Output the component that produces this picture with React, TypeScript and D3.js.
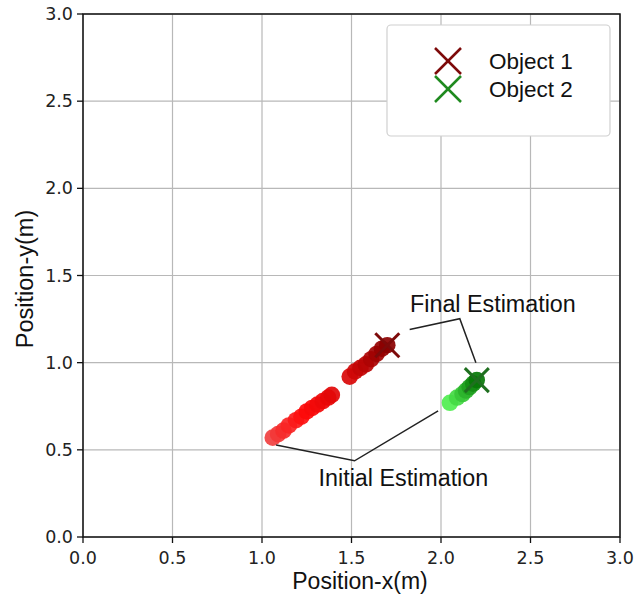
import React from "react";
import * as d3 from "d3";

const xTicks = [0, 0.5, 1.0, 1.5, 2.0, 2.5, 3.0];
const yTicks = [0, 0.5, 1.0, 1.5, 2.0, 2.5, 3.0];

// Object 1 estimates (initial -> final)
const obj1X = [1.06, 1.09, 1.12, 1.15, 1.19, 1.22, 1.25, 1.28, 1.31, 1.34, 1.37, 1.39, 1.49, 1.52, 1.55, 1.58, 1.61, 1.64, 1.67, 1.70];
const obj1Y = [0.57, 0.59, 0.61, 0.64, 0.67, 0.69, 0.72, 0.74, 0.76, 0.78, 0.80, 0.815, 0.92, 0.95, 0.97, 0.99, 1.02, 1.05, 1.08, 1.10];
// Object 2 estimates
const obj2X = [2.05, 2.09, 2.12, 2.14, 2.16, 2.18, 2.20];
const obj2Y = [0.77, 0.80, 0.82, 0.84, 0.86, 0.88, 0.90];

const legendLabels = ["Object 1", "Object 2"];
const legendColors = ["#7d0a0a", "#1f8a1f"];

const finalLine = [[1.825, 1.19], [2.105, 1.252], [2.195, 1.0]];
const initialLine = [[1.079, 0.528], [1.517, 0.437], [1.984, 0.723]];

export default function App() {
  const W = 635, H = 596;
  const left = 83, right = 620, top = 14, bottom = 537;
  const x = d3.scaleLinear().domain([0, 3]).range([left, right]);
  const y = d3.scaleLinear().domain([0, 3]).range([bottom, top]);

  const red1 = d3.scaleLinear<string>().domain([0, 0.3, 0.6, 1]).range(["#f04040", "#ff0a0a", "#e00808", "#8b0000"]);
  const green1 = d3.scaleLinear<string>().domain([0, 1]).range(["#50ee50", "#087808"]);

  const line = d3.line<number[]>().x(d => x(d[0])).y(d => y(d[1]));

  const tickFont = "DejaVu Sans";
  const r = 8.3;

  const xMark = (cx: number, cy: number, s: number, color: string, w: number) => (
    <g>
      <line x1={cx - s} y1={cy - s} x2={cx + s} y2={cy + s} stroke={color} strokeWidth={w} />
      <line x1={cx - s} y1={cy + s} x2={cx + s} y2={cy - s} stroke={color} strokeWidth={w} />
    </g>
  );

  return (
    <svg width={W} height={H} style={{ position: "absolute", left: 0, top: 0, background: "#fff" }}>
      <rect width={W} height={H} fill="#fff" />
      {/* grid */}
      {xTicks.map(t => (
        <line key={"gx" + t} x1={x(t)} x2={x(t)} y1={top} y2={bottom} stroke="#b8b8b8" strokeWidth={1.2} />
      ))}
      {yTicks.map(t => (
        <line key={"gy" + t} x1={left} x2={right} y1={y(t)} y2={y(t)} stroke="#b8b8b8" strokeWidth={1.2} />
      ))}
      {/* points object 1 */}
      {obj1X.map((v, i) => (
        <circle key={"a" + i} cx={x(v)} cy={y(obj1Y[i])} r={r} fill={red1(i / (obj1X.length - 1))} opacity={0.92} />
      ))}
      {obj2X.map((v, i) => (
        <circle key={"b" + i} cx={x(v)} cy={y(obj2Y[i])} r={r} fill={green1(i / (obj2X.length - 1))} opacity={0.92} />
      ))}
      {xMark(x(obj1X[obj1X.length - 1]), y(obj1Y[obj1Y.length - 1]), 12, "#7d0a0a", 3)}
      {xMark(x(obj2X[obj2X.length - 1]), y(obj2Y[obj2Y.length - 1]), 12, "#1f6f1f", 3)}
      {/* annotations */}
      <path d={line(finalLine) || ""} fill="none" stroke="#222" strokeWidth={1.5} />
      <path d={line(initialLine) || ""} fill="none" stroke="#222" strokeWidth={1.5} />
      <text x={x(2.29)} y={y(1.334)} textAnchor="middle" dominantBaseline="central" fontFamily="Liberation Sans" fontSize={23.3} fill="#111">Final Estimation</text>
      <text x={x(1.79)} y={y(0.338)} textAnchor="middle" dominantBaseline="central" fontFamily="Liberation Sans" fontSize={23.3} fill="#111">Initial Estimation</text>
      {/* axes spines */}
      <rect x={left} y={top} width={right - left} height={bottom - top} fill="none" stroke="#111" strokeWidth={1.5} />
      {/* ticks */}
      {xTicks.map(t => (
        <g key={"tx" + t}>
          <line x1={x(t)} x2={x(t)} y1={bottom} y2={bottom + 6} stroke="#111" strokeWidth={1.3} />
          <text x={x(t)} y={bottom + 21} textAnchor="middle" dominantBaseline="central" fontFamily={tickFont} fontSize={17.5} fill="#222">{t.toFixed(1)}</text>
        </g>
      ))}
      {yTicks.map(t => (
        <g key={"ty" + t}>
          <line x1={left - 6} x2={left} y1={y(t)} y2={y(t)} stroke="#111" strokeWidth={1.3} />
          <text x={left - 10} y={y(t)} textAnchor="end" dominantBaseline="central" fontFamily={tickFont} fontSize={17.5} fill="#222">{t.toFixed(1)}</text>
        </g>
      ))}
      {/* axis labels */}
      <text x={360} y={581} textAnchor="middle" dominantBaseline="central" fontFamily="Liberation Sans" fontSize={23} fill="#111">Position-x(m)</text>
      <text transform={`translate(25,279) rotate(-90)`} textAnchor="middle" dominantBaseline="central" fontFamily="Liberation Sans" fontSize={23.5} fill="#111">Position-y(m)</text>
      {/* legend */}
      <rect x={387} y={25} width={223} height={111} rx={4} fill="#fff" stroke="#d0d0d0" strokeWidth={1.2} />
      {legendLabels.map((lab, i) => (
        <g key={lab}>
          {xMark(448, 61 + i * 28, 13, legendColors[i], 2.5)}
          <text x={489} y={61 + i * 28} dominantBaseline="central" fontFamily="Liberation Sans" fontSize={22.5} fill="#111">{lab}</text>
        </g>
      ))}
    </svg>
  );
}
